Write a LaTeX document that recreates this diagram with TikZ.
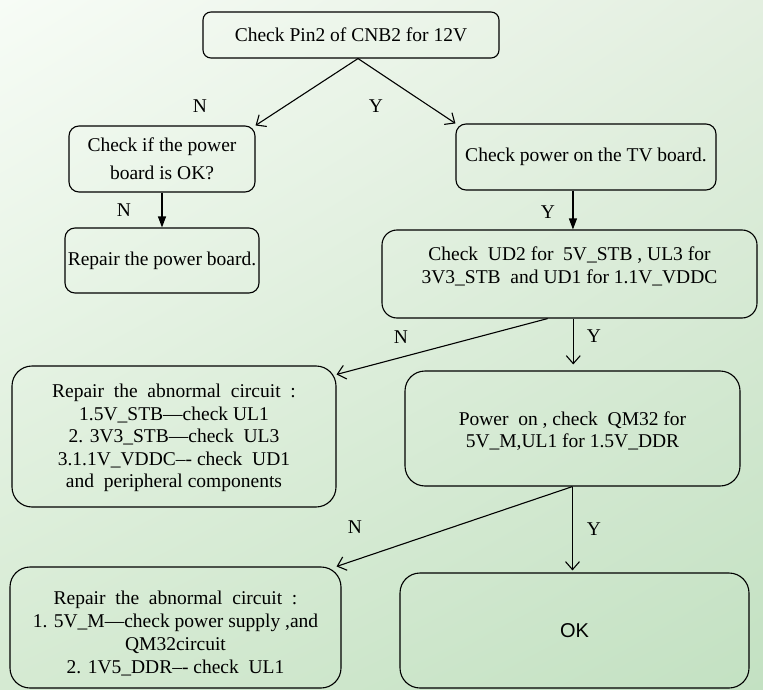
\documentclass[tikz,border=0pt]{standalone}
\usepackage{fontspec}
\setmainfont{Liberation Serif}
\newfontfamily\oksans{Liberation Sans}
\usetikzlibrary{arrows.meta,calc,shadings}
\definecolor{bgUL}{HTML}{F7FCF6}
\definecolor{bgUR}{HTML}{E3EFE0}
\definecolor{bgLL}{HTML}{D5EAD2}
\definecolor{bgLR}{HTML}{C3E1C2}
\begin{document}
\begin{tikzpicture}[x=1pt,y=-1pt,
  box/.style={draw=black,line width=1.1pt,rounded corners=#1,inner sep=0pt,align=center,
              font=\fontsize{19.5}{23}\selectfont},
  box/.default=10pt,
  txt/.style={inner sep=0pt,align=center,font=\fontsize{19.5}{23}\selectfont},
  lab/.style={inner sep=0pt,font=\fontsize{19.5}{23}\selectfont},
  openarr/.style={line width=1.1pt,-{Straight Barb[length=8pt,width=14pt,line width=1.1pt]}},
  fillarr/.style={line width=1.1pt,-{Triangle[length=11pt,width=8pt]}}]
\shade[upper left=bgUL,upper right=bgUR,lower left=bgLL,lower right=bgLR] (0,0) rectangle (763,690);
\useasboundingbox (0,0) rectangle (763,690);

\node[box=8pt,minimum width=296pt,minimum height=46pt] (b1) at (351,35) {Check Pin2 of CNB2 for 12V};
\node[box,minimum width=186pt,minimum height=66pt] (b2) at (162,159) {Check if the power\\[5pt]board is OK?};
\node[box,minimum width=260pt,minimum height=66pt] (b3) at (586,157) {Check power on the TV board.};
\node[box,minimum width=194pt,minimum height=65pt] (b4) at (162,260.5) {Repair the power board.};
\node[box=15pt,minimum width=375pt,minimum height=88pt] (b5) at (569.5,274) {};
\node[txt] (t5) at (569.5,266) {Check\ \ UD2 for\ \ 5V\_STB , UL3 for\\3V3\_STB\ \ and UD1 for 1.1V\_VDDC};
\node[box=20pt,minimum width=324pt,minimum height=141pt] (b6) at (174,436.5) {};
\node[txt] (t6) at (174,438)
  {Repair\ \ the\ \ abnormal\ \ circuit\ \ :\\[-0.5pt]1.5V\_STB—check UL1\\[-0.5pt]2. 3V3\_STB—check\ \ UL3\\[-0.5pt]3.1.1V\_VDDC–- check\ \ UD1\\[-0.5pt]and\ \ peripheral components};
\node[box=20pt,minimum width=335pt,minimum height=115pt] (b7) at (572.5,428.5) {};
\node[txt] (t7) at (572.5,431)
  {Power\ \ on , check\ \ QM32 for\\[-1pt]5V\_M,UL1 for 1.5V\_DDR};
\node[box=20pt,minimum width=331pt,minimum height=121pt] (b8) at (175.5,627.5) {};
\node[txt] (t8) at (175.5,633.5)
  {Repair\ \ the\ \ abnormal\ \ circuit\ \ :\\1. 5V\_M—check power supply ,and\\QM32circuit\\2. 1V5\_DDR–- check\ \ UL1};
\node[box=20pt,minimum width=349pt,minimum height=115pt,font=\oksans\fontsize{20}{24}\selectfont] (b9) at (574.5,630.5) {OK};

% connectors
\coordinate (s1) at ($(b1.south)+(7,0)$);
\draw[openarr] (s1) -- (b2.north east);
\draw[openarr] (s1) -- (b3.north west);
\draw[fillarr] (b2.south) -- (b4.north);
\coordinate (s3) at ($(b3.south west)!0.45!(b3.south east)$);
\draw[fillarr] (s3) -- (s3 |- b5.north);
\coordinate (s5n) at ($(b5.south west)!0.442!(b5.south east)$);
\coordinate (s5y) at ($(b5.south west)!0.51!(b5.south east)$);
\coordinate (e6) at ($(b6.north east)+(0,9)$);
\draw[openarr] (s5n) -- (e6);
\draw[openarr,shorten >=6pt] (s5y) -- (s5y |- b7.north);
\coordinate (e8) at ($(b8.north east)+(-5,0)$);
\draw[openarr] (b7.south) -- (e8);
\draw[openarr,shorten >=2pt] (b7.south) -- (b7.south |- b9.north);

% labels
\node[lab] (l1) at (200,106) {N};
\node[lab] (l2) at (376,106) {Y};
\node[lab] (l3) at (124,210) {N};
\node[lab] (l4) at (548,212) {Y};
\node[lab] (l5) at (401,337) {N};
\node[lab] (l6) at (594,336) {Y};
\node[lab] (l7) at (355,527) {N};
\node[lab] (l8) at (594,529) {Y};
\end{tikzpicture}
\end{document}
